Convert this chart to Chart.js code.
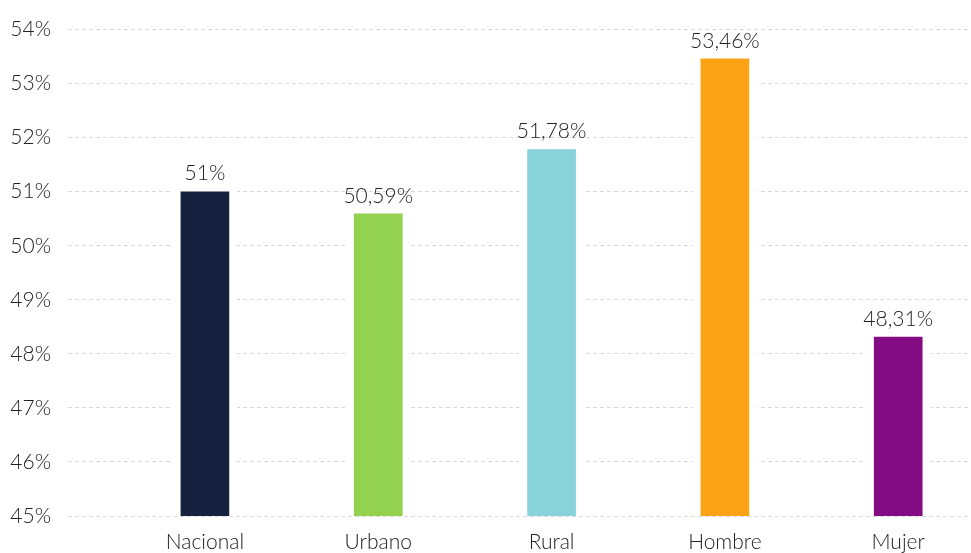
<!DOCTYPE html>
<html>
<head>
<meta charset="utf-8">
<script src="https://cdn.jsdelivr.net/npm/chart.js@4.4.1/dist/chart.umd.min.js"></script>
<style>
  html, body { margin: 0; padding: 0; background: #fff; overflow: hidden; }
  #wrap { position: relative; width: 971px; height: 553px; }
</style>
</head>
<body>
<div id="wrap"><canvas id="chart"></canvas></div>
<script>
// Porcentajes por grupo
const categories = ['Nacional', 'Urbano', 'Rural', 'Hombre', 'Mujer'];
const values = [51, 50.59, 51.78, 53.46, 48.31];
const barColors = ['#15213F', '#93D250', '#89D3DB', '#FBA314', '#830C83'];
const yTicks = [45, 46, 47, 48, 49, 50, 51, 52, 53, 54];

const FONT = 'Lato, "Open Sans", sans-serif';
const FONT_SIZE = 21;
const FONT_WEIGHT = 300;

// clears the dashed grid around each bar
const barGap = {
    id: 'barGap',
    beforeDatasetsDraw: function(chart) {
        const ctx = chart.ctx;
        const bottom = chart.chartArea.bottom;
        ctx.save();
        ctx.fillStyle = '#ffffff';
        chart.getDatasetMeta(0).data.forEach(bar => {
            const w = bar.width + 16;
            ctx.fillRect(bar.x - w / 2, bar.y - 1, w, bottom - bar.y + 1);
        });
        ctx.restore();
    }
};

// value labels above the bars
const valueLabels = {
    id: 'valueLabels',
    afterDatasetsDraw: function(chart) {
        const ctx = chart.ctx;
        ctx.save();
        ctx.font = FONT_WEIGHT + ' ' + FONT_SIZE + 'px ' + FONT;
        ctx.fillStyle = '#222';
        ctx.textAlign = 'center';
        ctx.textBaseline = 'middle';
        chart.getDatasetMeta(0).data.forEach((bar, i) => {
            const txt = values[i].toString().replace('.', ',') + '%';
            ctx.fillText(txt, bar.x, bar.y - 18);
        });
        ctx.restore();
    }
};

const tickFont = { family: FONT, size: FONT_SIZE, weight: FONT_WEIGHT };

new Chart(document.getElementById('chart'), {
    type: 'bar',
    data: {
        datasets: [{
            data: values.map((v, i) => ({ x: i, y: v })),
            backgroundColor: barColors,
            barThickness: 48
        }]
    },
    options: {
        responsive: true,
        maintainAspectRatio: false,
        animation: false,
        layout: { padding: { top: 21, left: 10, right: 0, bottom: 0 } },
        plugins: { legend: { display: false }, tooltip: { enabled: false } },
        scales: {
            x: {
                type: 'linear',
                offset: false,
                min: -0.79,
                max: 4.42,
                afterBuildTicks: function(axis) {
                    axis.ticks = categories.map((c, i) => ({ value: i }));
                },
                afterFit: function(axis) { axis.height = 37; },
                grid: { display: false, drawTicks: false, offset: false },
                border: { display: false },
                ticks: {
                    padding: 14,
                    maxRotation: 0,
                    autoSkip: false,
                    color: '#222',
                    font: tickFont,
                    callback: v => categories[v]
                }
            },
            y: {
                min: yTicks[0],
                max: yTicks[yTicks.length - 1],
                afterBuildTicks: function(axis) {
                    axis.ticks = yTicks.map(v => ({ value: v }));
                },
                afterFit: function(axis) { axis.width = 58; },
                grid: { color: '#d9d9d9', lineWidth: 1, drawTicks: false },
                border: { display: false, dash: [4, 3] },
                ticks: {
                    padding: 17,
                    color: '#222',
                    font: tickFont,
                    callback: v => v + '%'
                }
            }
        }
    },
    plugins: [barGap, valueLabels]
});
</script>
</body>
</html>
